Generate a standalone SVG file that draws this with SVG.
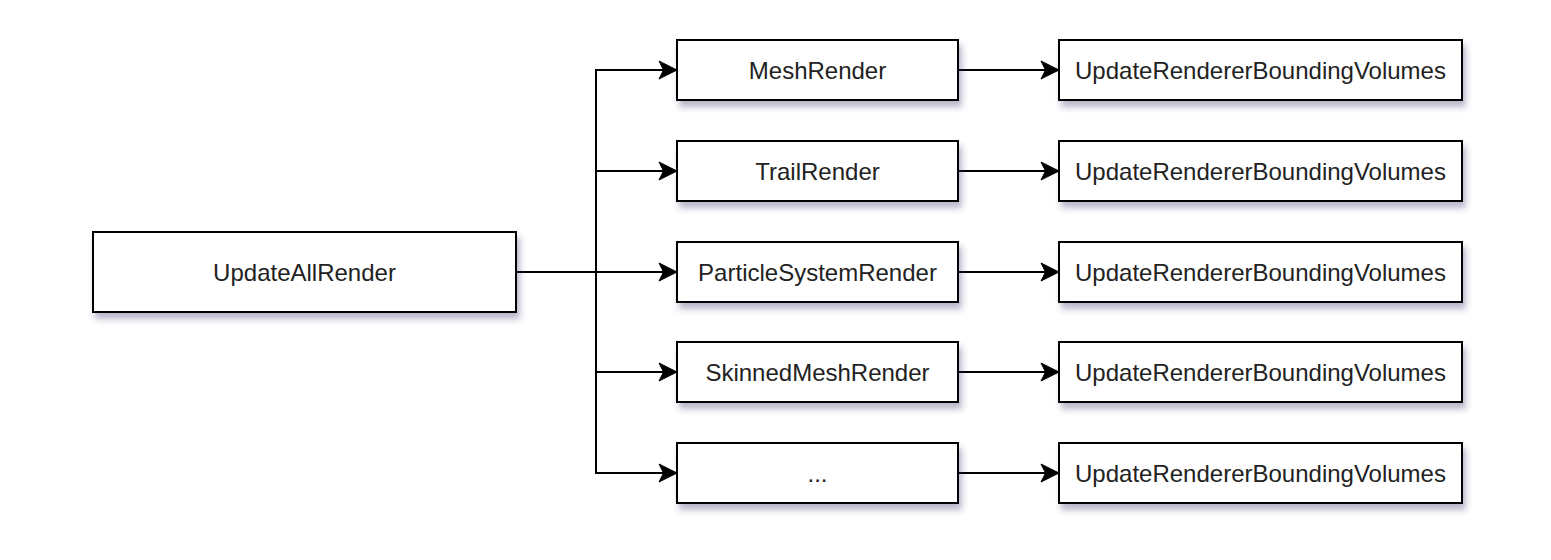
<svg xmlns="http://www.w3.org/2000/svg" width="1551" height="560" viewBox="0 0 1551 560">
  <style>
    .box { fill: #ffffff; stroke: #000000; stroke-width: 2; filter: url(#shadow); }
    .lbl { font-family: "Liberation Sans", Arial, sans-serif; font-size: 24px; fill: #222222; text-anchor: middle; dominant-baseline: central; }
    .edge { fill: none; stroke: #000000; stroke-width: 2; marker-end: url(#arrow); }
  </style>
  <defs>
    <filter id="shadow" x="-10%" y="-20%" width="130%" height="160%">
      <feDropShadow dx="3" dy="6" stdDeviation="3" flood-color="#30386a" flood-opacity="0.35"/>
    </filter>
    <marker id="arrow" markerUnits="userSpaceOnUse" markerWidth="22" markerHeight="22" viewBox="-20 -11 22 22" refX="0" refY="0" orient="auto">
      <path d="M0,0 L-18,-9 L-13.5,0 L-18,9 Z" fill="#000000" stroke="#000000" stroke-width="1"/>
    </marker>
  </defs>
  <rect width="1551" height="560" fill="#ffffff"/>

  <g id="connectors">
    <path class="edge" d="M516,272 H596 V70 H677"/>
    <path class="edge" d="M516,272 H596 V171 H677"/>
    <path class="edge" d="M516,272 H677"/>
    <path class="edge" d="M516,272 H596 V372 H677"/>
    <path class="edge" d="M516,272 H596 V473 H677"/>
    <path class="edge" d="M958,70 H1059"/>
    <path class="edge" d="M958,171 H1059"/>
    <path class="edge" d="M958,272 H1059"/>
    <path class="edge" d="M958,372 H1059"/>
    <path class="edge" d="M958,473 H1059"/>
  </g>

  <g id="updateAllRender">
    <rect class="box" x="93" y="232" width="423" height="80"/>
    <text class="lbl" x="304.5" y="272">UpdateAllRender</text>
  </g>

  <g id="meshRender">
    <rect class="box" x="677" y="40" width="281" height="60"/>
    <text class="lbl" x="817.5" y="70">MeshRender</text>
  </g>
  <g id="trailRender">
    <rect class="box" x="677" y="141" width="281" height="60"/>
    <text class="lbl" x="817.5" y="171">TrailRender</text>
  </g>
  <g id="particleSystemRender">
    <rect class="box" x="677" y="242" width="281" height="60"/>
    <text class="lbl" x="817.5" y="272">ParticleSystemRender</text>
  </g>
  <g id="skinnedMeshRender">
    <rect class="box" x="677" y="342" width="281" height="60"/>
    <text class="lbl" x="817.5" y="372">SkinnedMeshRender</text>
  </g>
  <g id="ellipsisRender">
    <rect class="box" x="677" y="443" width="281" height="60"/>
    <text class="lbl" x="817.5" y="473">...</text>
  </g>

  <g id="bounds1">
    <rect class="box" x="1059" y="40" width="403" height="60"/>
    <text class="lbl" x="1260.5" y="70">UpdateRendererBoundingVolumes</text>
  </g>
  <g id="bounds2">
    <rect class="box" x="1059" y="141" width="403" height="60"/>
    <text class="lbl" x="1260.5" y="171">UpdateRendererBoundingVolumes</text>
  </g>
  <g id="bounds3">
    <rect class="box" x="1059" y="242" width="403" height="60"/>
    <text class="lbl" x="1260.5" y="272">UpdateRendererBoundingVolumes</text>
  </g>
  <g id="bounds4">
    <rect class="box" x="1059" y="342" width="403" height="60"/>
    <text class="lbl" x="1260.5" y="372">UpdateRendererBoundingVolumes</text>
  </g>
  <g id="bounds5">
    <rect class="box" x="1059" y="443" width="403" height="60"/>
    <text class="lbl" x="1260.5" y="473">UpdateRendererBoundingVolumes</text>
  </g>
</svg>
